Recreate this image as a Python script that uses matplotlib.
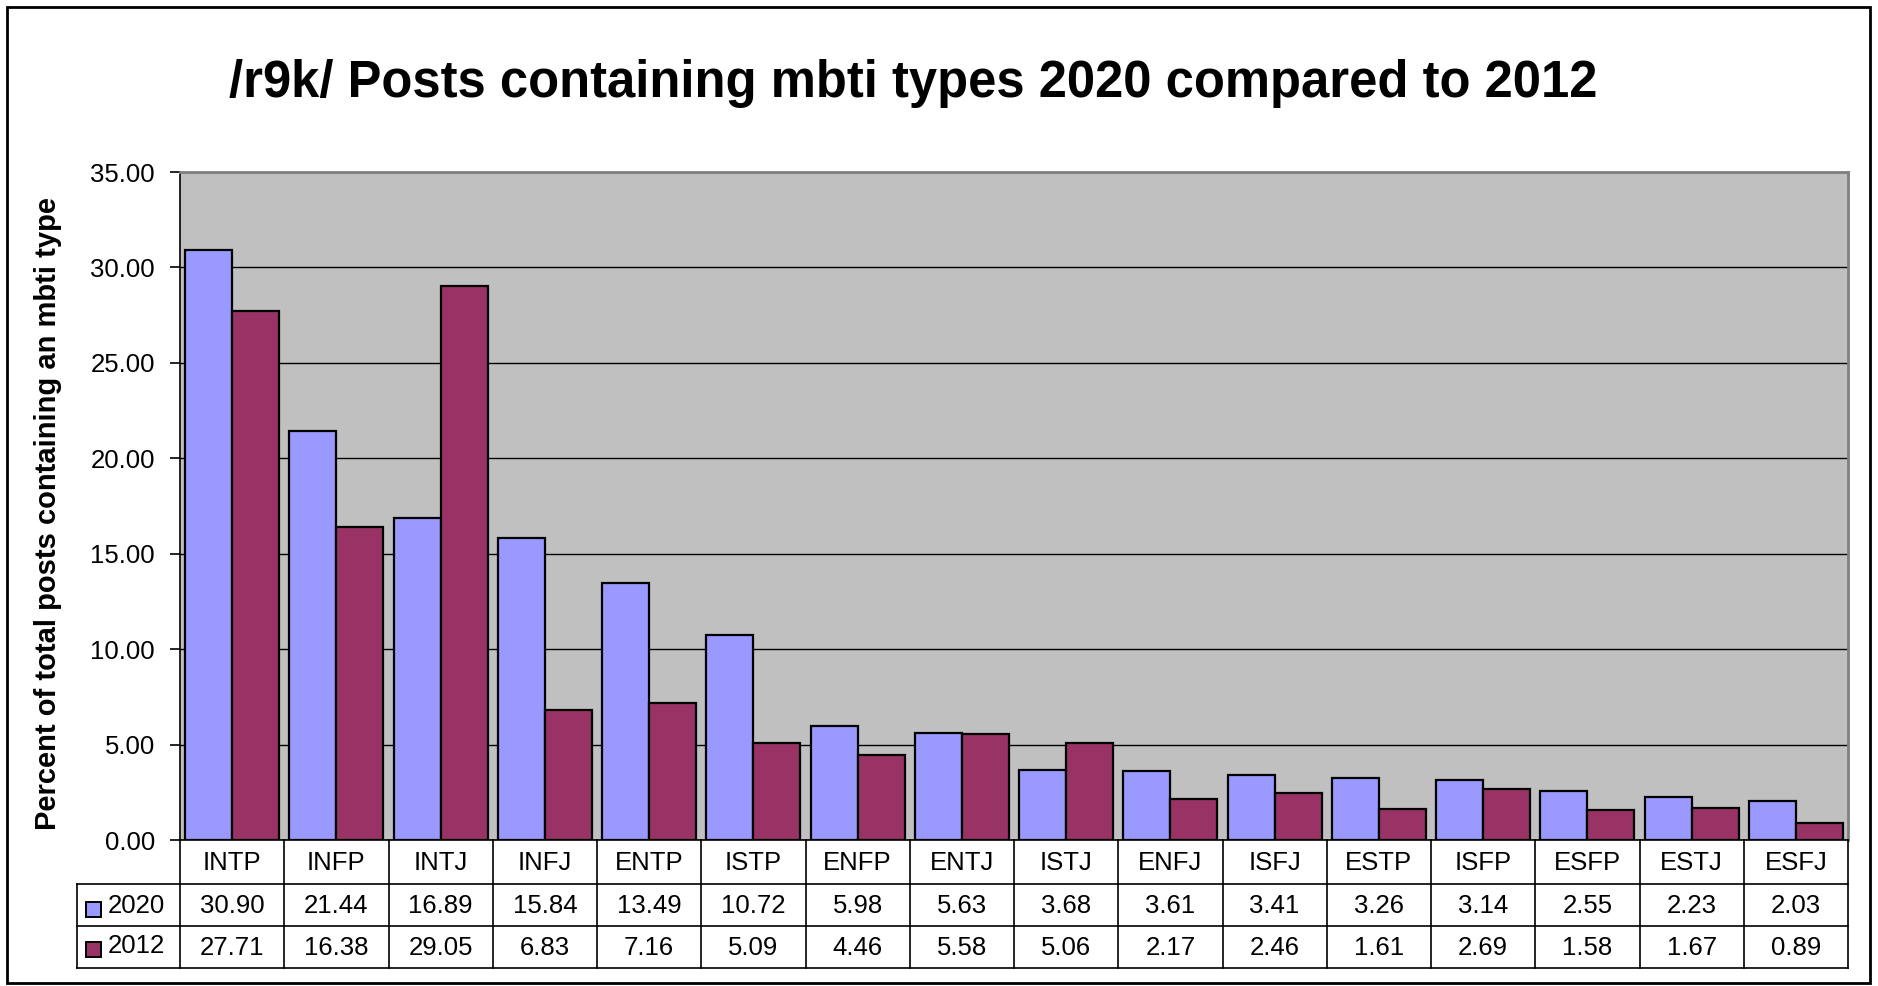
import matplotlib
matplotlib.use('Agg')
import matplotlib.pyplot as plt
from matplotlib.patches import Rectangle
from matplotlib.lines import Line2D
from matplotlib.transforms import blended_transform_factory

categories = ['INTP', 'INFP', 'INTJ', 'INFJ', 'ENTP', 'ISTP', 'ENFP', 'ENTJ',
              'ISTJ', 'ENFJ', 'ISFJ', 'ESTP', 'ISFP', 'ESFP', 'ESTJ', 'ESFJ']
vals_2020 = [30.90, 21.44, 16.89, 15.84, 13.49, 10.72, 5.98, 5.63,
             3.68, 3.61, 3.41, 3.26, 3.14, 2.55, 2.23, 2.03]
vals_2012 = [27.71, 16.38, 29.05, 6.83, 7.16, 5.09, 4.46, 5.58,
             5.06, 2.17, 2.46, 1.61, 2.69, 1.58, 1.67, 0.89]
series_names = ['2020', '2012']
yticks = [0, 5, 10, 15, 20, 25, 30, 35]

title = '/r9k/ Posts containing mbti types 2020 compared to 2012'
ylabel = 'Percent of total posts containing an mbti type'

c2020 = '#9999FF'
c2012 = '#993366'

plt.rcParams['font.family'] = ['Liberation Sans', 'DejaVu Sans']

W, H = 1878, 986
fig = plt.figure(figsize=(W / 100, H / 100), dpi=100)
fig.patch.set_facecolor('white')


def fx(px):
    return px / W


def fy(py):
    return 1 - py / H


ax = fig.add_axes([fx(180), fy(840), fx(1848) - fx(180), fy(172) - fy(840)])
ax.set_facecolor('#C0C0C0')

n = len(categories)
xs = list(range(n))
bw = 0.45
ax.bar([x - bw / 2 for x in xs], vals_2020, width=bw, color=c2020,
       edgecolor='black', linewidth=1.6, zorder=3)
ax.bar([x + bw / 2 for x in xs], vals_2012, width=bw, color=c2012,
       edgecolor='black', linewidth=1.6, zorder=3)

ax.set_xlim(-0.5, n - 0.5)
ax.set_ylim(0, 35)
ax.set_yticks(yticks)
ax.set_yticklabels(['%.2f' % v for v in yticks], fontsize=18.5)
ax.set_xticks([])
ax.yaxis.grid(True, color='black', linewidth=1.0)
ax.set_axisbelow(True)
ax.tick_params(axis='y', length=7, width=1.2, pad=11, direction='out')
for s in ['top', 'right']:
    ax.spines[s].set_color('#808080')
    ax.spines[s].set_linewidth(2)
for s in ['left', 'bottom']:
    ax.spines[s].set_color('black')
    ax.spines[s].set_linewidth(1.2)

# Data table below the axes
tr = blended_transform_factory(ax.transData, fig.transFigure)
row_lines = [840, 884, 926, 968]
row_centers = [863, 906, 948]
fs_tab = 18.5
for i, cat in enumerate(categories):
    fig.text(i, fy(row_centers[0]), cat, transform=tr, ha='center',
             va='center', fontsize=fs_tab)
    fig.text(i, fy(row_centers[1]), '%.2f' % vals_2020[i], transform=tr,
             ha='center', va='center', fontsize=fs_tab)
    fig.text(i, fy(row_centers[2]), '%.2f' % vals_2012[i], transform=tr,
             ha='center', va='center', fontsize=fs_tab)

for b in range(n + 1):
    fig.add_artist(Line2D([b - 0.5, b - 0.5], [fy(840), fy(968)],
                          transform=tr, color='black', linewidth=1.2))
for yy in row_lines[1:]:
    fig.add_artist(Line2D([fx(77), fx(1848)], [fy(yy), fy(yy)],
                          transform=fig.transFigure, color='black',
                          linewidth=1.2))
fig.add_artist(Line2D([fx(77), fx(77)], [fy(884), fy(968)],
                      transform=fig.transFigure, color='black', linewidth=1.2))

# legend keys in table
for name, col, yc in [(series_names[0], c2020, 909),
                      (series_names[1], c2012, 949)]:
    fig.add_artist(Rectangle((fx(86), fy(yc + 7.5)), fx(15), 15 / H,
                             transform=fig.transFigure, facecolor=col,
                             edgecolor='black', linewidth=1.4))
    fig.text(fx(108), fy(yc - 3), name, ha='left', va='center', fontsize=fs_tab)

# outer border
fig.add_artist(Rectangle((fx(7), fy(983)), fx(1870) - fx(7), fy(7) - fy(983),
                         transform=fig.transFigure, fill=False,
                         edgecolor='black', linewidth=2))

fig.text(fx(913), fy(84), title, ha='center', va='center', fontsize=36.5,
         fontweight='bold')
fig.text(fx(48), fy(513), ylabel, ha='center', va='center', rotation=90,
         fontsize=21, fontweight='bold')

fig.savefig('out.png', dpi=100)
